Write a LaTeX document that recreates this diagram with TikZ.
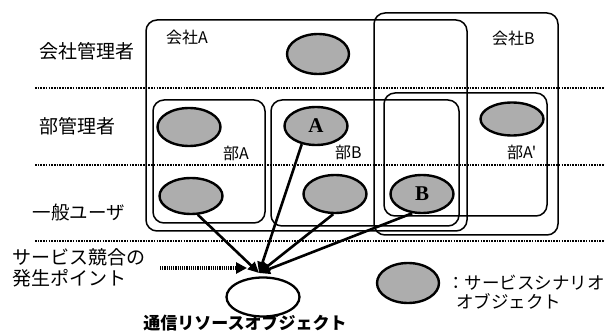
\documentclass[tikz,border=0pt]{standalone}
\usepackage{fontspec}
\setmainfont{Liberation Serif}
\newfontfamily\jp{Noto Sans CJK JP}
\usetikzlibrary{shapes.geometric,arrows.meta}
\begin{document}
\begin{tikzpicture}[x=1pt,y=-1pt,
  sepline/.style={line width=2pt, dash pattern=on 1.6pt off 1.1pt},
  grp/.style={draw, line width=1.5pt, rounded corners=11pt},
  scen/.style={ellipse, draw, line width=2.4pt, fill=black!32, minimum width=63pt, minimum height=38pt, inner sep=0pt},
  role/.style={font=\jp\fontsize{19}{22}\selectfont, inner sep=0pt},
  small/.style={font=\jp\fontsize{16}{19}\selectfont, inner sep=0pt, anchor=west},
  mid/.style={font=\jp\fontsize{17.5}{20}\selectfont, inner sep=0pt, anchor=west},
  letter/.style={font=\bfseries\fontsize{21}{22}\selectfont},
  arr/.style={line width=2.6pt, -{Triangle[length=11pt,width=10pt]}},
  dotarr/.style={line width=3.2pt, dash pattern=on 1.2pt off 1pt, -{Triangle[length=11pt,width=11pt]}}
]
\useasboundingbox (0,0) rectangle (605,331);

% group boxes
\draw[grp] (146,20) rectangle (467,231);
\draw[grp] (374,13) rectangle (558,235);
\draw[grp] (153,100) rectangle (265,223);
\draw[grp] (271,100) rectangle (459,226);
\draw[grp] (384,93) rectangle (547,216);

% separators
\draw[sepline] (35,88) -- (605,88);
\draw[sepline] (35,165) -- (605,165);
\draw[sepline] (35,241) -- (605,241);

% role labels
\node[role] (r1) at (87,51) {会社管理者};
\node[role] (r2) at (77,126) {部管理者};
\node[role, font=\jp\fontsize{18.5}{21}\selectfont] (r3) at (79,212) {一般ユーザ};
\node[role, anchor=west] (r4) at (12,257) {サービス競合の};
\node[role, anchor=west] (r5) at (12,278) {発生ポイント};

% group labels
\node[small] (cA) at (166,37) {会社A};
\node[small] (cB) at (492,38) {会社B};
\node[small] (dA) at (223,153) {部A};
\node[small] (dB) at (335,152) {部B};
\node[small] (dA2) at (507,152) {部A'};

% scenario objects
\node[scen, minimum width=62pt, minimum height=40pt] (co) at (318,54) {};
\node[scen] (da) at (189,127) {};
\node[scen, letter] (nA) at (316,126) {A};
\node[scen, minimum height=33pt] (dap) at (512,119) {};
\node[scen, minimum height=36pt] (ua) at (191,196) {};
\node[scen] (ub) at (335,194) {};
\node[scen, letter] (nB) at (422,194) {B};

% legend
\node[scen, minimum width=62pt, minimum height=40pt] (leg) at (408,283) {};
\node[mid] (legt1) at (447,283) {：サービスシナリオ};
\node[mid] (legt2) at (456,301) {オブジェクト};

% resource object
\node[ellipse, draw, line width=2.3pt, fill=white, minimum width=73pt, minimum height=39pt] (res) at (263,297) {};
\node[font=\jp\bfseries\fontsize{17}{20}\selectfont, inner sep=0pt] (rest) at (245,323) {通信リソースオブジェクト};

% arrows
\coordinate (hit) at (259,273);
\coordinate (dp) at (160,268);
\coordinate (dpe) at (247,268);
\draw[arr] (ua.-70) -- (hit);
\draw[arr] (nA.-128) -- (hit);
\draw[arr] (ub.-95) -- (hit);
\draw[arr] (nB.-117) -- (hit);
\draw[dotarr] (dp) -- (dpe);
\end{tikzpicture}
\end{document}
